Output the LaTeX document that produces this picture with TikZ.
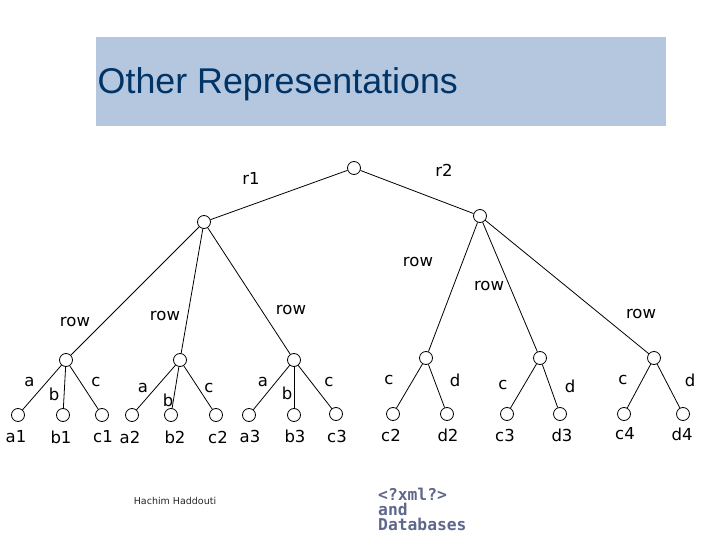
\documentclass[tikz,border=0pt]{standalone}
\usepackage{fontspec}
\setmainfont{DejaVu Sans}
\newfontfamily\titlefont{Liberation Sans}
\newfontfamily\xmlfont{DejaVu Sans Mono}
\begin{document}
\begin{tikzpicture}[x=1pt,y=-1pt,
  vertex/.style={circle,draw=black,fill=white,line width=0.8pt,minimum size=13pt,inner sep=0pt},
  edgeline/.style={draw=black,line width=0.8pt},
  lab/.style={font=\fontsize{16.5}{16.5}\selectfont,inner sep=0pt,text=black,anchor=center},
  xmltext/.style={font=\xmlfont\bfseries\fontsize{16.3}{16.3}\selectfont,text=xmlblue,inner sep=0pt,anchor=west}]
\definecolor{banner}{HTML}{B4C7DF}
\definecolor{titleblue}{HTML}{003366}
\definecolor{xmlblue}{HTML}{5F678C}
\useasboundingbox (0,0) rectangle (720,540);
\fill[white] (0,0) rectangle (720,540);
\fill[banner] (96,37) rectangle (666,126);
\node[font=\titlefont\fontsize{35.8}{35.8}\selectfont,text=titleblue,anchor=west,inner sep=0pt] (title) at (97.5,84) {Other Representations};
% vertices
\node[vertex] (root) at (354,168) {};
\node[vertex] (L) at (204,222) {};
\node[vertex] (R) at (480,216) {};
\node[vertex] (L1) at (66,360) {};
\node[vertex] (L2) at (180,360) {};
\node[vertex] (L3) at (294,360) {};
\node[vertex] (R1) at (426,358) {};
\node[vertex] (R2) at (540,358) {};
\node[vertex] (R3) at (654,358) {};
\node[vertex] (n1) at (18,415) {};
\node[vertex] (n2) at (63,415) {};
\node[vertex] (n3) at (102,415) {};
\node[vertex] (n4) at (132,415) {};
\node[vertex] (n5) at (171,415) {};
\node[vertex] (n6) at (216,415) {};
\node[vertex] (n7) at (249,415) {};
\node[vertex] (n8) at (294,415) {};
\node[vertex] (n9) at (336,414) {};
\node[vertex] (m1) at (393,414) {};
\node[vertex] (m2) at (447,414) {};
\node[vertex] (m3) at (507,414) {};
\node[vertex] (m4) at (560,414) {};
\node[vertex] (m5) at (624,414) {};
\node[vertex] (m6) at (683,414) {};
% edges
\foreach \a/\b in {root/L,root/R,L/L1,L/L2,L/L3,R/R1,R/R2,R/R3,L1/n1,L1/n2,L1/n3,L2/n4,L2/n5,L2/n6,L3/n7,L3/n8,L3/n9,R1/m1,R1/m2,R2/m3,R2/m4,R3/m5,R3/m6}
  \draw[edgeline] (\a) -- (\b);
% labels
\node[lab] (t1) at (251,178) {r1};
\node[lab] (t2) at (444,170) {r2};
\node[lab] (t3) at (418,262) {row};
\node[lab] (t4) at (489,286) {row};
\node[lab] (t5) at (291,310) {row};
\node[lab] (t6) at (165,316) {row};
\node[lab] (t7) at (75,322) {row};
\node[lab] (t8) at (641,314) {row};
\node[lab] at (29.5,382) {a};
\node[lab] at (54,394) {b};
\node[lab] at (96,382) {c};
\node[lab] at (143,388) {a};
\node[lab] at (168,400) {b};
\node[lab] at (209,388) {c};
\node[lab] at (263,382) {a};
\node[lab] at (287,393) {b};
\node[lab] at (329,382) {c};
\node[lab] at (389,380) {c};
\node[lab] at (455,380) {d};
\node[lab] at (503,385) {c};
\node[lab] at (570,386) {d};
\node[lab] at (623,380) {c};
\node[lab] at (690,380) {d};
\node[lab] at (16,437) {a1};
\node[lab] at (61,437) {b1};
\node[lab] at (103,437) {c1};
\node[lab] at (130,437) {a2};
\node[lab] at (175,437) {b2};
\node[lab] at (218,437) {c2};
\node[lab] at (250,436) {a3};
\node[lab] at (295,436) {b3};
\node[lab] at (337,436) {c3};
\node[lab] at (391,435) {c2};
\node[lab] at (448,435) {d2};
\node[lab] at (505,435) {c3};
\node[lab] at (562,435) {d3};
\node[lab] at (625,434) {c4};
\node[lab] at (682,434) {d4};
\node[font=\fontsize{9.5}{9.5}\selectfont,inner sep=0pt,text=black!85] (author) at (175,501) {Hachim Haddouti};
\node[xmltext] (x1) at (378,494) {<?xml?>};
\node[xmltext] (x2) at (378,509) {and};
\node[xmltext] (x3) at (378,524) {Databases};
\end{tikzpicture}
\end{document}
